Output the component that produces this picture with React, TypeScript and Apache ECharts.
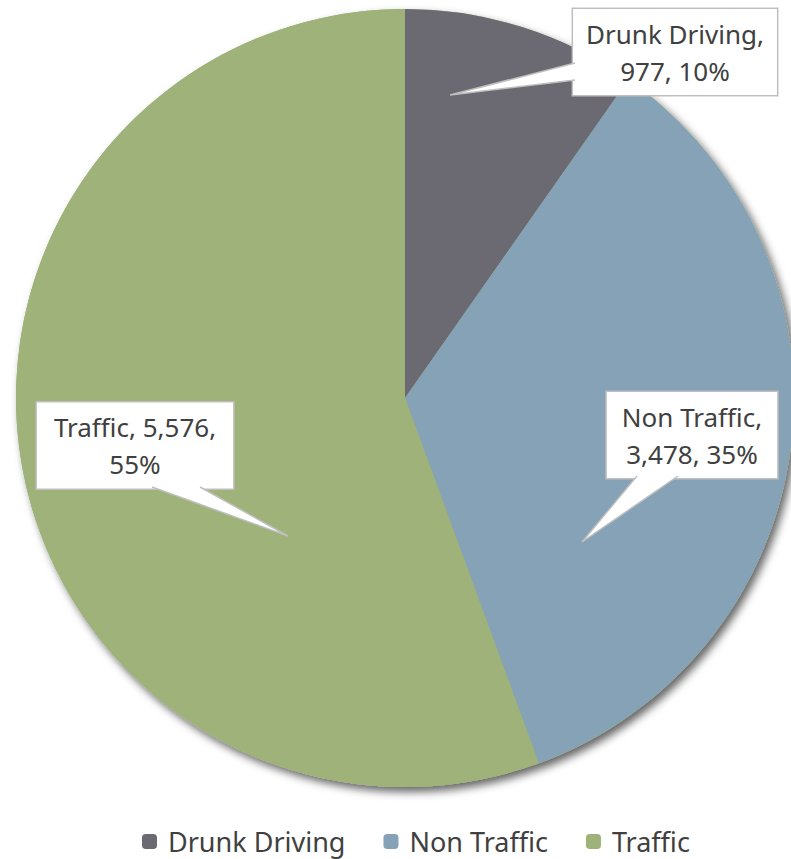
import React, { useEffect, useRef } from "react";
import * as echarts from "echarts";

const categories = ["Drunk Driving", "Non Traffic", "Traffic"];
const values = [977, 3478, 5576];
const colors = ["#6b6a72", "#86a2b6", "#9eb27a"];
// label text line breaks as in the reference
const labelBreaks = [
  (n: string, v: string, p: number) => `${n},\n${v}, ${p}%`,
  (n: string, v: string, p: number) => `${n},\n${v}, ${p}%`,
  (n: string, v: string, p: number) => `${n}, ${v},\n${p}%`,
];

// layout (pixels)
const CENTER = [405, 398];
const RADIUS = 389;
const labelCenters = [
  [675, 52],
  [692, 435],
  [135, 445.5],
];
const labelPadX = [13, 15, 17];
const wedges = [
  { tip: [450, 95], a: [575, 63], b: [575, 80] },
  { tip: [582, 542], a: [637, 476], b: [678, 476] },
  { tip: [288, 536], a: [152, 487], b: [200, 487] },
];

export default function App() {
  const ref = useRef<HTMLDivElement>(null);
  useEffect(() => {
    document.body.style.margin = "0";
    const chart = echarts.init(ref.current!, undefined, { renderer: "svg" });
    const font = "'Noto Sans', 'Open Sans', sans-serif";
    const graphics: any[] = [];
    wedges.forEach((w) => {
      graphics.push({
        type: "polygon",
        z: 100,
        shape: { points: [w.a, w.tip, w.b] },
        style: { fill: "#ffffff", stroke: "none" },
      });
      graphics.push({
        type: "polyline",
        z: 101,
        shape: { points: [w.a, w.tip, w.b] },
        style: { stroke: "#bfbfbf", lineWidth: 1.5, fill: "none" },
      });
    });
    chart.setOption({
      animation: false,
      backgroundColor: "#ffffff",
      legend: {
        data: categories,
        top: 823,
        left: 137,
        icon: "roundRect",
        itemWidth: 15,
        itemHeight: 15,
        itemGap: 38,
        textStyle: {
          fontSize: 27,
          lineHeight: 27,
          padding: [0, 0, 0, 6],
          color: "#404040",
          fontFamily: font,
        },
      },
      graphic: graphics,
      series: [
        {
          type: "pie",
          silent: true,
          center: CENTER,
          radius: RADIUS,
          z: 1,
          data: [{ value: 1, name: "_bg" }],
          label: { show: false },
          labelLine: { show: false },
          itemStyle: {
            color: colors[2],
            shadowBlur: 9,
            shadowOffsetX: 4,
            shadowOffsetY: 5,
            shadowColor: "rgba(0,0,0,0.6)",
          },
        },
        {
          type: "pie",
          center: CENTER,
          radius: RADIUS,
          startAngle: 90,
          clockwise: true,
          percentPrecision: 0,
          z: 2,
          data: categories.map((c, i) => ({
            name: c,
            value: values[i],
            itemStyle: { color: colors[i] },
            label: { padding: [6, labelPadX[i], 6, labelPadX[i]] },
          })),
          label: {
            show: true,
            position: "inside",
            formatter: (p: any) =>
              labelBreaks[p.dataIndex](
                p.name,
                Number(p.value).toLocaleString("en-US"),
                p.percent
              ),
            backgroundColor: "#ffffff",
            borderColor: "#bfbfbf",
            borderWidth: 1.5,
            fontSize: 26,
            lineHeight: 37,
            color: "#404040",
            fontFamily: font,
            align: "center",
          },
          labelLine: { show: false },
          labelLayout: (p: any) => ({
            x: labelCenters[p.dataIndex][0],
            y: labelCenters[p.dataIndex][1],
            align: "center",
            verticalAlign: "middle",
          }),
        },
      ],
    });
    return () => chart.dispose();
  }, []);
  return <div ref={ref} style={{ width: 791, height: 859 }} />;
}
